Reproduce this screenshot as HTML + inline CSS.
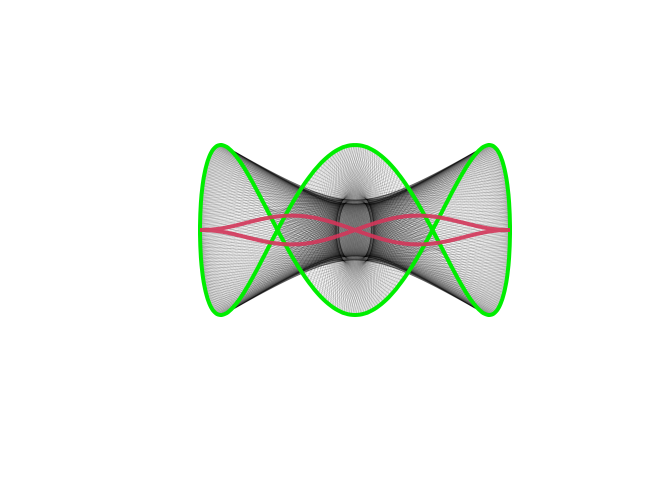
<!DOCTYPE html>
<html><head><meta charset="utf-8"><style>body{margin:0;background:#fff}svg{display:block}</style></head>
<body>
<svg id="chart" width="672" height="480" viewBox="0 0 672 480">
<g id="segs"></g>
<path id="green" fill="none" stroke="#00ee00" stroke-width="4"/>
<path id="red" fill="none" stroke="#d3365a" stroke-width="4" stroke-opacity="0.9"/>
</svg>
<script>
const freqX = [1];
const freqY = [3];
const redAmp = [0.18];
const chordShift = [3.35, 2.9];
const nPoints = [400];
const ns='http://www.w3.org/2000/svg';
const sx=v=>355+155*v, sy=v=>230-85*v;
const P=t=>[sx(Math.sin(freqX[0]*t)), sy(Math.cos(freqY[0]*t))];
let g='', r='';
const N=nPoints[0];
for(let i=0;i<=N;i++){const t=2*Math.PI*i/N;const p=P(t);g+=(i?'L':'M')+p[0].toFixed(1)+' '+p[1].toFixed(1);
 const c=Math.cos(t);const f=Math.sin(2*t)*Math.pow(c,4)/0.55;
 const rx=sx(Math.sin(t)), ry=sy(redAmp[0]*f);r+=(i?'L':'M')+rx.toFixed(1)+' '+ry.toFixed(1);}
document.getElementById('green').setAttribute('d',g);
document.getElementById('red').setAttribute('d',r);
const segs=document.getElementById('segs');
function seg(a,q,op){const l=document.createElementNS(ns,'line');
 
 
 l.setAttribute('x1',a[0]);l.setAttribute('y1',a[1]);l.setAttribute('x2',q[0]);l.setAttribute('y2',q[1]);
 l.setAttribute('stroke','#000');l.setAttribute('stroke-opacity',op);l.setAttribute('stroke-width','0.6');segs.appendChild(l);}
for(let i=0;i<N;i++){const t=2*Math.PI*i/N;const a=P(t);
 for(const s of chordShift){seg(a,P(t+s),'0.14');}
 seg(a,P(Math.PI-t+0.15),'0.1');}
</script>
</body></html>
